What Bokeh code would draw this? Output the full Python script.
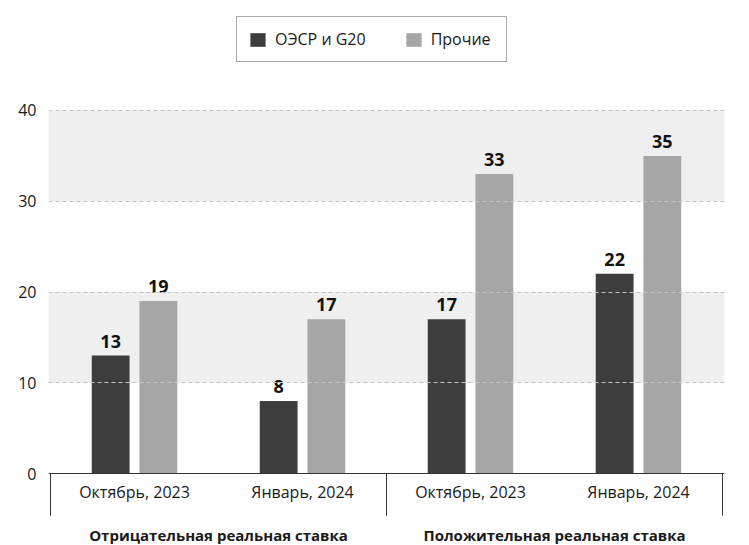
from bokeh.plotting import figure
from bokeh.models import FactorRange, Range1d, FixedTicker, Legend, LegendItem, ColumnDataSource, BoxAnnotation
from bokeh.transform import dodge
from bokeh.core.properties import value
from bokeh.embed import file_html
from bokeh.resources import INLINE

# ---- data -------------------------------------------------------------
groups = ["Отрицательная реальная ставка", "Положительная реальная ставка"]
periods = ["Октябрь, 2023", "Январь, 2024"]
series_names = ["ОЭСР и G20", "Прочие"]
oecd_g20 = [13, 8, 17, 22]
others = [19, 17, 33, 35]
y_ticks = [0, 10, 20, 30, 40]
shaded_bands = [(10, 20), (30, 40)]

factors = [(g, per) for g in groups for per in periods]

FONT = "Open Sans"
TEXT = "#1a1a1a"
DARK = "#3d3d3d"
LIGHT = "#a6a6a6"

source = ColumnDataSource(dict(
    x=factors,
    a=oecd_g20,
    b=others,
    a_lbl=[str(v) for v in oecd_g20],
    b_lbl=[str(v) for v in others],
))

x_range = FactorRange(*factors, factor_padding=0, group_padding=0,
                      range_padding=0.012, range_padding_units="absolute")
y_range = Range1d(-7.93, 52.12)

p = figure(x_range=x_range, y_range=y_range, width=749, height=545,
           output_backend="svg", toolbar_location=None,
           min_border_left=48, min_border_right=25,
           min_border_top=0, min_border_bottom=0,
           outline_line_color=None, background_fill_color="white",
           border_fill_color="white")

# light bands behind every other grid interval
for lo, hi in shaded_bands:
    p.add_layout(BoxAnnotation(bottom=lo, top=hi, fill_color="#efefef", fill_alpha=1.0,
                               line_color=None, level="underlay"))

# dashed horizontal grid, drawn over the bands but under the bars
p.xgrid.grid_line_color = None
p.ygrid.ticker = FixedTicker(ticks=y_ticks[1:])
p.ygrid.grid_line_color = "#c4c4c4"
p.ygrid.grid_line_dash = "4 3"
p.ygrid.grid_line_width = 1
p.ygrid.level = "glyph"

# value axis
p.yaxis.ticker = FixedTicker(ticks=y_ticks)
p.yaxis.axis_line_color = None
p.yaxis.major_tick_line_color = None
p.yaxis.minor_tick_line_color = None
p.yaxis.major_tick_out = 0
p.yaxis.major_label_standoff = 12
p.yaxis.major_label_text_font = FONT
p.yaxis.major_label_text_font_size = "16px"
p.yaxis.major_label_text_color = TEXT

# category axis sitting on the zero line (period labels only)
xa = p.xaxis[0]
xa.fixed_location = 0
xa.axis_line_color = "#333333"
xa.axis_line_width = 1
xa.major_tick_line_color = None
xa.minor_tick_line_color = None
xa.major_tick_out = 0
xa.major_label_standoff = 7
xa.major_label_text_font = FONT
xa.major_label_text_font_size = "16px"
xa.major_label_text_color = TEXT
xa.group_text_color = None
xa.group_text_font_size = "0px"
xa.separator_line_color = None

# vertical separators below the axis
p.segment(x0=[0, 2, 4], y0=[0, 0, 0], x1=[0, 2, 4], y1=[-4.63, -4.63, -4.63],
          line_color="#333333", line_width=1)

# group captions centred under each pair of periods
p.text(x=[1, 3], y=[-6.72, -6.72], text=groups,
       text_font=value(FONT), text_font_size="15px", text_font_style="bold",
       text_color=TEXT, text_align="center", text_baseline="middle")

OFF = 0.142
W = 0.225
r_a = p.vbar(x=dodge("x", -OFF, range=x_range), top="a", width=W, source=source,
             fill_color=DARK, line_color=None)
r_b = p.vbar(x=dodge("x", OFF, range=x_range), top="b", width=W, source=source,
             fill_color=LIGHT, line_color=None)

for col, lbl, off in (("a", "a_lbl", -OFF), ("b", "b_lbl", OFF)):
    p.text(x=dodge("x", off, range=x_range), y=col, text=lbl, source=source,
           text_font=value(FONT), text_font_size="18px", text_font_style="bold",
           text_color="#111111", text_align="center", text_baseline="bottom",
           y_offset=-8)

legend = Legend(items=[LegendItem(label=series_names[0], renderers=[r_a]),
                       LegendItem(label=series_names[1], renderers=[r_b])],
                orientation="horizontal", location=(188, 483),
                padding=11, spacing=38, glyph_width=19, glyph_height=17,
                label_standoff=8, label_width=64,
                label_text_font=FONT, label_text_font_size="16px",
                label_text_color=TEXT, border_line_color="#555555",
                border_line_width=1, background_fill_color="white",
                background_fill_alpha=1.0, margin=0)
p.add_layout(legend)

open("out.html", "w").write(file_html(p, INLINE))
